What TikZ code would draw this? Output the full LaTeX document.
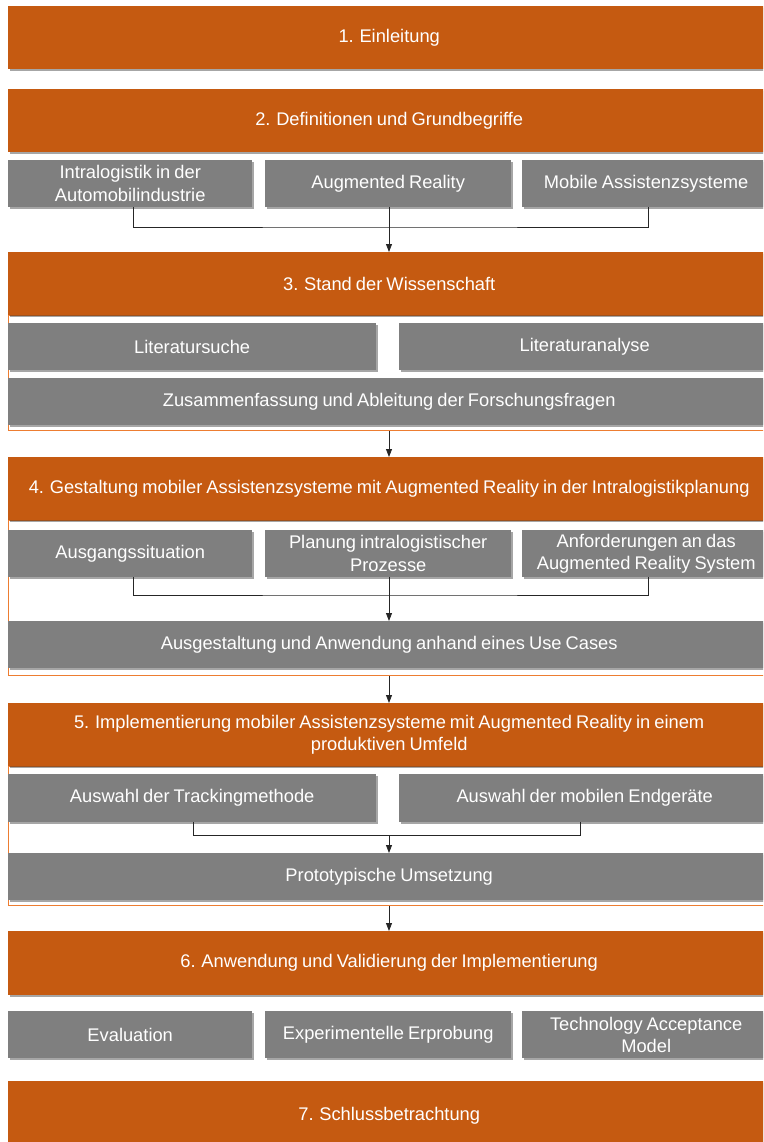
\documentclass[tikz,border=0pt]{standalone}
\usepackage{fontspec}
\setmainfont{Liberation Sans}[WordSpace={0.8}]
\usetikzlibrary{arrows.meta,shadows}
\definecolor{orng}{HTML}{C55A11}
\definecolor{frm}{HTML}{ED7D31}
\definecolor{gry}{HTML}{7F7F7F}
\tikzset{
  base/.style={anchor=north west, inner sep=0pt, align=center, text=white,
    font=\fontsize{18.3}{22.5}\selectfont,
    drop shadow={shadow xshift=1.5pt, shadow yshift=-2pt, opacity=0.35, fill=black}},
  obox/.style={base, fill=orng},
  gbox/.style={base, fill=gry},
  frame/.style={anchor=north west, inner sep=0pt, draw=frm, line width=1pt},
  conn/.style={draw=black!85, line width=0.8pt},
  arr/.style={conn, -{Triangle[width=6pt,length=8pt]}}
}
\newcommand{\bx}[7]{\node[#2, minimum width={(#5-#3)*1pt}, minimum height={(#6-#4)*1pt}] (#1) at (#3,#4) {#7};}
\begin{document}
\begin{tikzpicture}[x=1pt,y=-1pt]
\useasboundingbox (0,0) rectangle (763,1142);
\clip (0,0) rectangle (763,1142);
% frames
\bx{f3}{frame}{8}{315}{770}{430}{}
\bx{f4}{frame}{8}{520}{770}{675}{}
\bx{f5}{frame}{8}{766}{770}{905}{}
% main boxes
\bx{s1}{obox}{8}{6}{770}{69}{1. Einleitung}
\bx{s2}{obox}{8}{89}{770}{152}{2. Definitionen und Grundbegriffe}
\bx{s3}{obox}{8}{252}{770}{315}{3. Stand der Wissenschaft}
\bx{s4}{obox}{8}{457}{770}{520}{4. Gestaltung mobiler Assistenzsysteme mit Augmented Reality in der Intralogistikplanung}
\bx{s5}{obox}{8}{703}{770}{766}{5. Implementierung mobiler Assistenzsysteme mit Augmented Reality in einem\\produktiven Umfeld}
\bx{s6}{obox}{8}{931}{770}{995}{6. Anwendung und Validierung der Implementierung}
\bx{s7}{obox}{8}{1081}{770}{1150}{7. Schlussbetrachtung}
% section 2
\bx{d1}{gbox}{8}{160}{252}{207}{Intralogistik in der\\Automobilindustrie}
\bx{d2}{gbox}{265}{160}{511}{207}{Augmented Reality}
\bx{d3}{gbox}{522}{160}{770}{207}{Mobile Assistenzsysteme}
% section 3
\bx{l1}{gbox}{8}{323}{376}{370}{Literatursuche}
\bx{l2}{gbox}{399}{323}{770}{370}{Literaturanalyse}
\bx{l3}{gbox}{8}{378}{770}{425}{Zusammenfassung und Ableitung der Forschungsfragen}
% section 4
\bx{a1}{gbox}{8}{530}{252}{577}{Ausgangssituation}
\bx{a2}{gbox}{265}{530}{511}{577}{Planung intralogistischer\\Prozesse}
\bx{a3}{gbox}{522}{530}{770}{577}{Anforderungen an das\\Augmented Reality System}
\bx{a4}{gbox}{8}{621}{770}{668}{Ausgestaltung und Anwendung anhand eines Use Cases}
% section 5
\bx{t1}{gbox}{8}{774}{376}{822}{Auswahl der Trackingmethode}
\bx{t2}{gbox}{399}{774}{770}{822}{Auswahl der mobilen Endgeräte}
\bx{t3}{gbox}{8}{853}{770}{900}{Prototypische Umsetzung}
% section 6
\bx{e1}{gbox}{8}{1011}{252}{1058}{Evaluation}
\bx{e2}{gbox}{265}{1011}{511}{1058}{Experimentelle Erprobung}
\bx{e3}{gbox}{522}{1011}{770}{1058}{Technology Acceptance\\Model}
% connectors
\coordinate (j2) at (389,227);
\draw[conn] (d1.south -| 133,0) |- (j2) -| (d3.south -| 648,0);
\draw[arr] (d2.south -| j2) -- (s3.north -| j2);
\draw[arr] (f3.south -| j2) -- (s4.north -| j2);
\coordinate (j4) at (389,595);
\draw[conn] (a1.south -| 133,0) |- (j4) -| (a3.south -| 648,0);
\draw[arr] (a2.south -| j4) -- (a4.north -| j4);
\draw[arr] (f4.south -| j4) -- (s5.north -| j4);
\coordinate (j5) at (389,835);
\draw[conn] (t1.south -| 193,0) |- (j5) -| (t2.south -| 580,0);
\draw[arr] (j5) -- (t3.north -| j5);
\draw[arr] (f5.south -| j5) -- (s6.north -| j5);
\end{tikzpicture}
\end{document}
